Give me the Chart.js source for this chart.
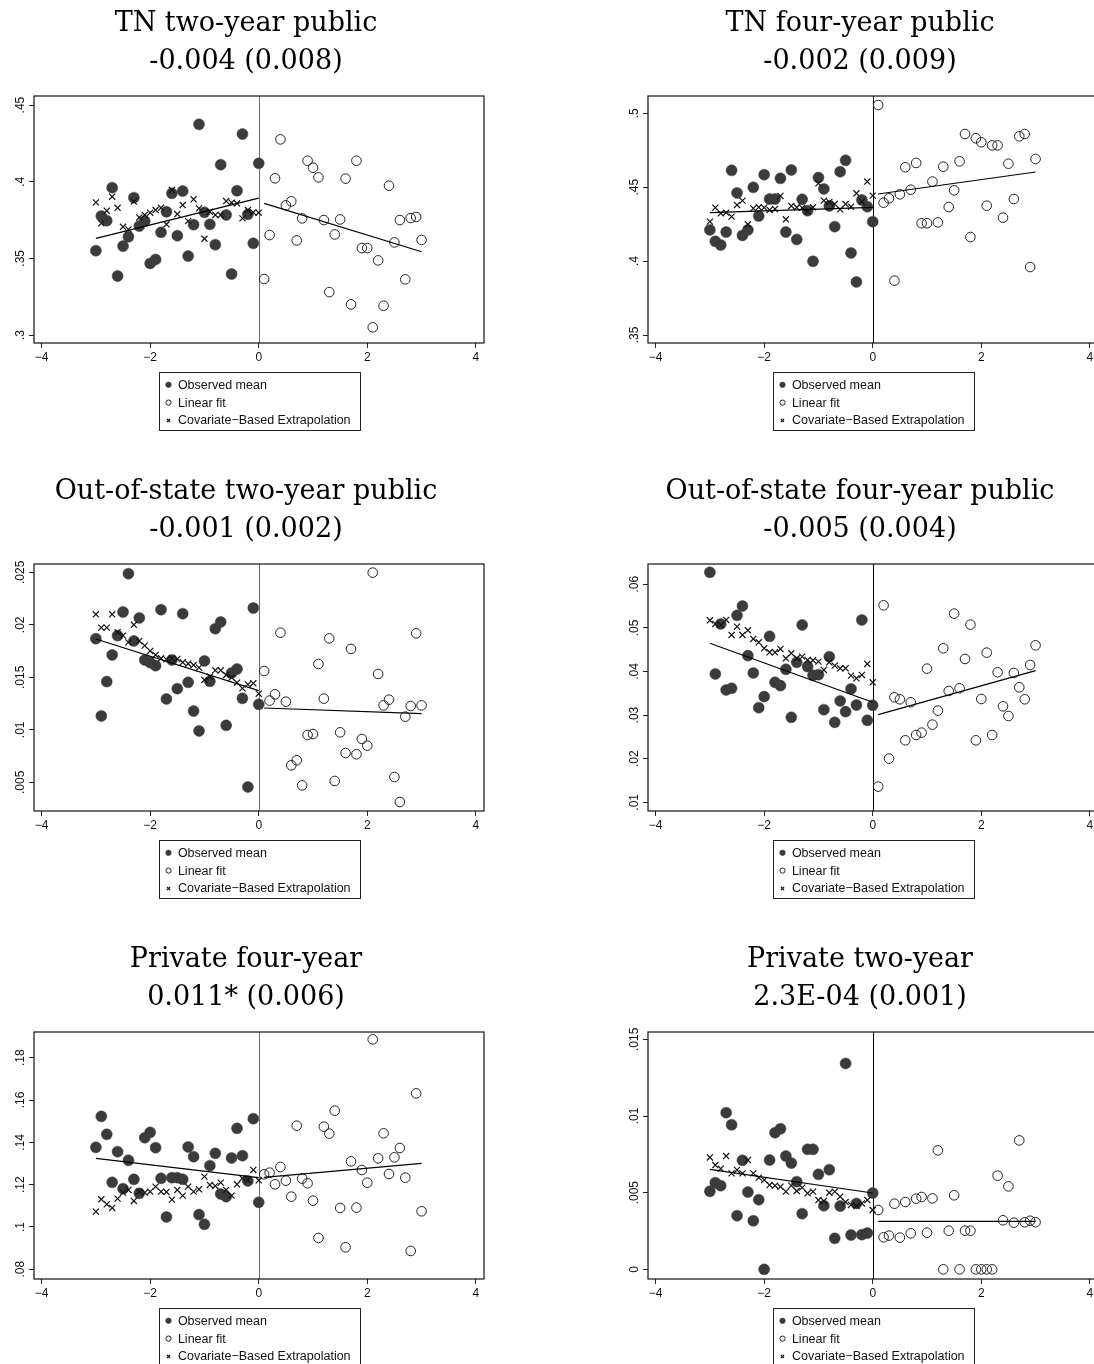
<!DOCTYPE html>
<html>
<head>
<meta charset="utf-8">
<title>Regression discontinuity panels</title>
<script src="https://cdn.jsdelivr.net/npm/chart.js@4.4.1/dist/chart.umd.min.js"></script>
<style>
  html, body { margin: 0; padding: 0; background: #fff; }
  #page { position: relative; width: 1094px; height: 1364px; overflow: hidden; background: #fff; }
  #page canvas { position: absolute; }
</style>
</head>
<body>
<div id="page"></div>
<script>
// running variable bins, left and right of the cutoff
const binsLeft = [-3, -2.9, -2.8, -2.7, -2.6, -2.5, -2.4, -2.3, -2.2, -2.1, -2, -1.9, -1.8, -1.7, -1.6, -1.5,
  -1.4, -1.3, -1.2, -1.1, -1, -0.9, -0.8, -0.7, -0.6, -0.5, -0.4, -0.3, -0.2, -0.1, 0];
const binsRight = [0.1, 0.2, 0.3, 0.4, 0.5, 0.6, 0.7, 0.8, 0.9, 1, 1.1, 1.2, 1.3, 1.4, 1.5, 1.6, 1.7, 1.8,
  1.9, 2, 2.1, 2.2, 2.3, 2.4, 2.5, 2.6, 2.7, 2.8, 2.9, 3];
const fitLeftX = [-3, 0];
const fitRightX = [0.1, 3];
const xTicks = [-4, -2, 0, 2, 4];
const legendLabels = ['Observed mean', 'Linear fit', 'Covariate\u2212Based Extrapolation'];

// TN two-year public
const tn2Title = ['TN two-year public', '-0.004 (0.008)'];
const tn2Obs = [.3550, .3776, .3746, .3961, .3385, .3580, .3641, .3896, .3711, .3743, .3467, .3493, .3670, .3804, .3924, .3648,
  .3939, .3515, .3720, .4374, .3800, .3722, .3589, .4111, .3783, .3398, .3941, .4311, .3787, .3598, .4120];
const tn2Extrap = [.3865, .3728, .3811, .3902, .3830, .3706, .3689, .3870, .3767, .3783, .3798, .3815, .3830, .3722, .3946, .3789,
  .3848, .3743, .3885, .3826, .3628, .3804, .3783, .3783, .3874, .3863, .3859, .3761, .3815, .3800, .3798];
const tn2Right = [.3365, .3652, .4022, .4276, .3846, .3872, .3617, .3761, .4137, .4091, .4028, .3750, .3280, .3656, .3754,
  .4020, .3200, .4137, .3567, .3567, .3050, .3487, .3191, .3974, .3604, .3750, .3363, .3763, .3770, .3620];
const tn2FitL = [.3630, .3893];
const tn2FitR = [.3859, .3543];
const tn2Ticks = [.3, .35, .4, .45];
const tn2TickLabels = ['.3', '.35', '.4', '.45'];

// TN four-year public
const tn4Title = ['TN four-year public', '-0.002 (0.009)'];
const tn4Obs = [.4211, .4134, .4109, .4197, .4614, .4461, .4174, .4211, .4499, .4305, .4585, .4420, .4420, .4560, .4197, .4617,
  .4147, .4418, .4341, .3999, .4565, .4488, .4373, .4233, .4605, .4682, .4055, .3859, .4414, .4368, .4267];
const tn4Extrap = [.4267, .4362, .4323, .4328, .4301, .4380, .4409, .4249, .4357, .4364, .4362, .4346, .4353, .4441, .4283, .4373,
  .4364, .4360, .4335, .4364, .4526, .4409, .4400, .4386, .4350, .4386, .4368, .4459, .4402, .4538, .4443];
const tn4Right = [.5056, .4395, .4425, .3868, .4452, .4635, .4483, .4664, .4256, .4256, .4538, .4262, .4639, .4366, .4479,
  .4675, .4860, .4163, .4831, .4804, .4375, .4783, .4783, .4294, .4659, .4420, .4844, .4860, .3960, .4691];
const tn4FitL = [.4328, .4364];
const tn4FitR = [.4454, .4603];
const tn4Ticks = [.35, .4, .45, .5];
const tn4TickLabels = ['.35', '.4', '.45', '.5'];

// Out-of-state two-year public
const oos2Title = ['Out-of-state two-year public', '-0.001 (0.002)'];
const oos2Obs = [.01868, .01132, .01459, .01713, .01897, .02122, .02487, .01846, .02065, .01665, .01640, .01611, .02144, .01294,
  .01665, .01392, .02106, .01452, .01179, .00989, .01656, .01462, .01963, .02027, .01043, .01541, .01579, .01300, .00456, .02160, .01243];
const oos2Extrap = [.0210, .01973, .01973, .0210, .01929, .01897, .01833, .0200, .01846, .01802, .01751, .01713, .01681, .01671,
  .01681, .01675, .01643, .0163, .01617, .01592, .01475, .01506, .01567, .01567, .01522, .01497, .01449, .01395, .01433, .01443, .01344];
const oos2Right = [.0156, .01278, .01338, .01925, .01268, .00662, .0071, .00471, .00951, .0096, .01627, .01297, .01871, .00513,
  .00976, .00779, .0177, .00767, .00913, .00849, .02497, .01532, .01233, .01287, .00551, .00313, .01125, .01227, .01919, .01233];
const oos2FitL = [.01865, .01373];
const oos2FitR = [.01208, .01154];
const oos2Ticks = [.005, .01, .015, .02, .025];
const oos2TickLabels = ['.005', '.01', '.015', '.02', '.025'];

// Out-of-state four-year public
const oos4Title = ['Out-of-state four-year public', '-0.005 (0.004)'];
const oos4Obs = [.06275, .03943, .0509, .03576, .03615, .05289, .05503, .04364, .03966, .03171, .03424, .04807, .03752, .03676,
  .0405, .0295, .04211, .05067, .04112, .03913, .03928, .03125, .04341, .02835, .03324, .0308, .0360, .03232, .05182, .02881, .03225];
const oos4Extrap = [.05174, .0509, .05067, .05182, .04838, .05029, .04838, .04945, .04746, .0467, .04532, .0444, .0444, .04517,
  .04303, .04417, .04303, .04341, .04265, .04257, .04226, .04035, .04211, .04135, .04073, .04073, .03905, .03844, .0392, .04173, .03752];
const oos4Right = [.0136, .05518, .02002, .03408, .03362, .02422, .03294, .02544, .02598, .04066, .02781, .03103, .04532, .03554,
  .05327, .03615, .04287, .05075, .02422, .0337, .04433, .02544, .03982, .03202, .0298, .03966, .03638, .03362, .0415, .04601];
const oos4FitL = [.04647, .03294];
const oos4FitR = [.03011, .0402];
const oos4Ticks = [.01, .02, .03, .04, .05, .06];
const oos4TickLabels = ['.01', '.02', '.03', '.04', '.05', '.06'];

// Private four-year
const pv4Title = ['Private four-year', '0.011* (0.006)'];
const pv4Obs = [.13764, .15228, .14378, .1211, .13559, .11811, .1315, .12252, .1159, .1422, .14472, .13748, .12299, .10473,
  .1233, .1233, .12252, .1378, .13323, .10583, .10126, .12898, .1348, .11559, .11433, .1326, .14661, .1337, .12173, .15118, .11165];
const pv4Extrap = [.10724, .11307, .1107, .10898, .11339, .11622, .11748, .11228, .11669, .11622, .11669, .11906, .11669, .11653,
  .11291, .11748, .1148, .11906, .11669, .11779, .12378, .11984, .11937, .12094, .11748, .1148, .12016, .12299, .1222, .12693, .12205];
const pv4Right = [.12488, .12567, .12016, .12835, .12189, .11433, .14787, .12283, .12063, .11244, .0948, .1474, .1441, .15496,
  .10898, .09039, .13102, .10913, .12693, .12094, .18866, .13244, .14425, .12504, .13291, .13732, .12331, .08866, .16315, .1074];
const pv4FitL = [.13244, .1233];
const pv4FitR = [.12346, .13008];
const pv4Ticks = [.08, .1, .12, .14, .16, .18];
const pv4TickLabels = ['.08', '.1', '.12', '.14', '.16', '.18'];

// Private two-year
const pv2Title = ['Private two-year', '2.3E-04 (0.001)'];
const pv2Obs = [.00509, .00565, .00546, .01022, .00943, .0035, .00711, .00504, .00317, .00454, 0, .00713, .00891, .00917,
  .00739, .00693, .00572, .00363, .00783, .00783, .0062, .00415, .0065, .00202, .00413, .01343, .00224, .0043, .00226, .00237, .00498];
const pv2Extrap = [.0073, .0068, .00657, .00739, .00626, .00648, .00626, .00713, .00626, .00598, .00583, .0055, .00546, .00539,
  .00507, .00546, .00511, .00533, .00496, .00507, .00452, .00446, .005, .00507, .00474, .00439, .0042, .00413, .0043, .00452, .00387];
const pv2Right = [.00387, .00209, .0022, .00428, .00207, .00439, .00235, .00461, .00472, .00239, .00463, .00776, 0, .00252,
  .00483, 0, .00252, .00252, 0, 0, 0, 0, .00611, .0032, .00541, .00304, .00841, .00307, .00317, .00307];
const pv2FitL = [.00652, .00498];
const pv2FitR = [.00313, .00313];
const pv2Ticks = [0, .005, .01, .015];
const pv2TickLabels = ['0', '.005', '.01', '.015'];

const DOT = '#3b3b3b';
const SANS = '"Liberation Sans", Arial, Helvetica, sans-serif';

const panels = [
  { title: tn2Title, obs: tn2Obs, extrap: tn2Extrap, right: tn2Right, fitL: tn2FitL, fitR: tn2FitR, ticks: tn2Ticks, labels: tn2TickLabels, ymin: .2948, ymax: .4559, left: 0, top: 0, cut: '#6e6e6e' },
  { title: tn4Title, obs: tn4Obs, extrap: tn4Extrap, right: tn4Right, fitL: tn4FitL, fitR: tn4FitR, ticks: tn4Ticks, labels: tn4TickLabels, ymin: .3446, ymax: .5117, left: 614, top: 0, cut: '#000' },
  { title: oos2Title, obs: oos2Obs, extrap: oos2Extrap, right: oos2Right, fitL: oos2FitL, fitR: oos2FitR, ticks: oos2Ticks, labels: oos2TickLabels, ymin: .00227, ymax: .02579, left: 0, top: 468, cut: '#6e6e6e' },
  { title: oos4Title, obs: oos4Obs, extrap: oos4Extrap, right: oos4Right, fitL: oos4FitL, fitR: oos4FitR, ticks: oos4Ticks, labels: oos4TickLabels, ymin: .00801, ymax: .06465, left: 614, top: 468, cut: '#000' },
  { title: pv4Title, obs: pv4Obs, extrap: pv4Extrap, right: pv4Right, fitL: pv4FitL, fitR: pv4FitR, ticks: pv4Ticks, labels: pv4TickLabels, ymin: .0754, ymax: .19215, left: 0, top: 936, cut: '#6e6e6e' },
  { title: pv2Title, obs: pv2Obs, extrap: pv2Extrap, right: pv2Right, fitL: pv2FitL, fitR: pv2FitR, ticks: pv2Ticks, labels: pv2TickLabels, ymin: -.00063, ymax: .01548, left: 614, top: 936, cut: '#000' }
];

function pts(xs, ys) {
  return xs.map((x, i) => ({ x: x, y: ys[i] }));
}

// plot box, cutoff line, rotated y labels and the boxed legend
const framePlugin = {
  id: 'frame',
  beforeDatasetsDraw(chart, args, opts) {
    const { ctx, chartArea: a, scales: { x } } = chart;
    const px = Math.round(x.getPixelForValue(0)) + 0.5;
    ctx.save();
    ctx.strokeStyle = opts.cut;
    ctx.lineWidth = 1;
    ctx.beginPath();
    ctx.moveTo(px, a.top);
    ctx.lineTo(px, a.bottom);
    ctx.stroke();
    ctx.restore();
  },
  afterDraw(chart, args, opts) {
    const { ctx, chartArea: a, scales: { y } } = chart;
    ctx.save();
    ctx.strokeStyle = '#111';
    ctx.lineWidth = 1.2;
    ctx.strokeRect(a.left, a.top, a.right - a.left, a.bottom - a.top);

    ctx.fillStyle = '#111';
    ctx.font = '12px ' + SANS;
    ctx.textAlign = 'center';
    ctx.textBaseline = 'alphabetic';
    y.ticks.forEach((t, i) => {
      ctx.save();
      ctx.translate(a.left - 10, y.getPixelForValue(t.value));
      ctx.rotate(-Math.PI / 2);
      ctx.fillText(opts.labels[i], 0, 0);
      ctx.restore();
    });

    const lx = Math.round((a.left + a.right) / 2 - 100.5) + 0.5;
    const ly = Math.round(a.bottom + 28.7) + 0.5;
    ctx.strokeStyle = '#222';
    ctx.lineWidth = 1;
    ctx.strokeRect(lx, ly, 201, 58);
    ctx.font = '12.5px ' + SANS;
    ctx.textAlign = 'left';
    ctx.textBaseline = 'middle';
    chart.data.datasets.slice(0, 3).forEach((ds, i) => {
      const cy = ly + 12.3 + i * 17.8;
      ctx.fillStyle = ds.backgroundColor;
      ctx.strokeStyle = ds.borderColor;
      ctx.lineWidth = ds.borderWidth || 1;
      Chart.helpers.drawPoint(ctx, { pointStyle: ds.pointStyle, radius: ds.legendRadius, borderWidth: ds.borderWidth, rotation: 0 }, lx + 9, cy);
      ctx.fillStyle = '#111';
      ctx.fillText(ds.label, lx + 18.4, cy + 0.5);
    });
    ctx.restore();
  }
};

const page = document.getElementById('page');

panels.forEach(p => {
  const canvas = document.createElement('canvas');
  canvas.width = 500;
  canvas.height = 468;
  canvas.style.left = p.left + 'px';
  canvas.style.top = p.top + 'px';
  page.appendChild(canvas);

  new Chart(canvas, {
    type: 'scatter',
    data: {
      datasets: [
        { label: legendLabels[0], data: pts(binsLeft, p.obs), pointStyle: 'circle', pointRadius: 5.5, legendRadius: 2.8,
          backgroundColor: DOT, borderColor: DOT, borderWidth: 0.5, order: 3 },
        { label: legendLabels[1], data: pts(binsRight, p.right), pointStyle: 'circle', pointRadius: 4.8, legendRadius: 2.6,
          backgroundColor: 'rgba(255,255,255,0)', borderColor: '#222', borderWidth: 1, order: 2 },
        { label: legendLabels[2], data: pts(binsLeft, p.extrap), pointStyle: 'crossRot', pointRadius: 4.3, legendRadius: 2.2,
          backgroundColor: '#111', borderColor: '#111', borderWidth: 1.2, order: 1 },
        { label: 'fit left', data: pts(fitLeftX, p.fitL), showLine: true, pointRadius: 0, borderColor: '#000', borderWidth: 1.2, order: 0 },
        { label: 'fit right', data: pts(fitRightX, p.fitR), showLine: true, pointRadius: 0, borderColor: '#000', borderWidth: 1.2, order: 0 }
      ]
    },
    options: {
      responsive: false,
      animation: false,
      devicePixelRatio: 1,
      events: [],
      layout: { padding: { left: 8, right: 16, top: 0, bottom: 100 } },
      scales: {
        x: {
          type: 'linear', min: -4.14, max: 4.15,
          afterBuildTicks: s => { s.ticks = xTicks.map(v => ({ value: v })); },
          afterFit: s => { s.height = 25; },
          border: { display: false },
          grid: { drawOnChartArea: false, drawTicks: true, tickLength: 5, color: '#222', tickColor: '#222' },
          ticks: { padding: 2, color: '#111', autoSkip: false, maxRotation: 0, font: { family: SANS, size: 12 },
            callback: v => (v < 0 ? '\u2212' + Math.abs(v) : String(v)) }
        },
        y: {
          type: 'linear', min: p.ymin, max: p.ymax,
          afterBuildTicks: s => { s.ticks = p.ticks.map(v => ({ value: v })); },
          afterFit: s => { s.width = 26; },
          border: { display: false },
          grid: { drawOnChartArea: false, drawTicks: true, tickLength: 5, color: '#222', tickColor: '#222' },
          ticks: { display: false }
        }
      },
      plugins: {
        legend: { display: false },
        tooltip: { enabled: false },
        title: {
          display: true, text: p.title, color: '#000',
          font: { family: '"DejaVu Serif", serif', size: 27, weight: 'normal', lineHeight: 38 / 27 },
          padding: { top: 4.5, bottom: 15.5 }
        },
        frame: { cut: p.cut, labels: p.labels }
      }
    },
    plugins: [framePlugin]
  });
});
</script>
</body>
</html>
